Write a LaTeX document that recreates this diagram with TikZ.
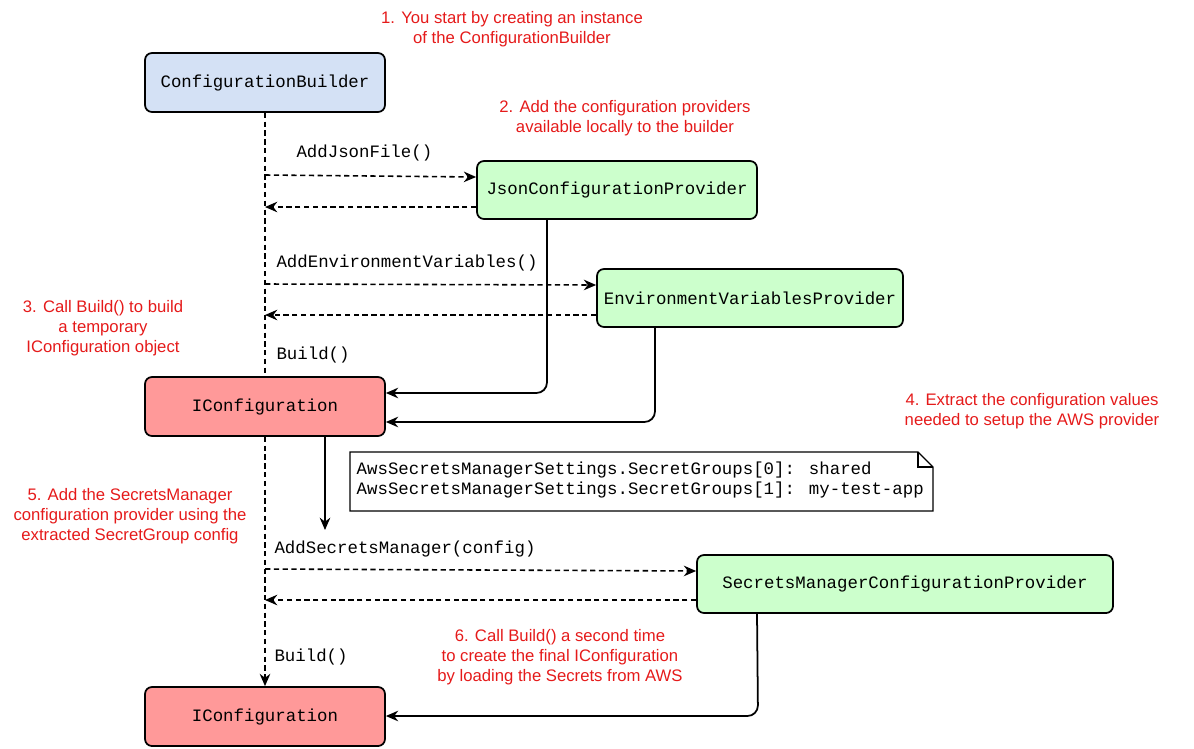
\documentclass[tikz,border=0pt]{standalone}
\usepackage{fontspec}
\setmainfont{Liberation Sans}
\newfontfamily\monofont{Liberation Mono}
\usetikzlibrary{arrows.meta,shapes.misc}
\definecolor{cbblue}{HTML}{D4E1F5}
\definecolor{provgreen}{HTML}{CCFFCC}
\definecolor{confred}{HTML}{FF9999}
\definecolor{notered}{HTML}{E51A1A}
\begin{document}
\begin{tikzpicture}[x=0.02cm, y=-0.02cm, thick,
  box/.style={draw, rounded corners=4pt, line width=1pt, font=\monofont\fontsize{9.9}{11}\selectfont},
  call/.style={densely dashed, line width=0.9pt, -{Stealth[length=7pt,width=6pt]}},
  link/.style={line width=1pt, rounded corners=6pt, -{Stealth[length=7pt,width=6pt]}},
  lbl/.style={anchor=west, font=\monofont\fontsize{9.9}{11}\selectfont},
  stepnote/.style={text=notered, align=center, font=\fontsize{9.5}{11.2}\selectfont}]
\useasboundingbox (0,0) rectangle (1194,748);
%%%%% Boxes %%%%%
\node[box, fill=cbblue, minimum width=240*0.02cm, minimum height=59*0.02cm] (cb) at (265,82.5) {ConfigurationBuilder};
\node[box, fill=provgreen, minimum width=280*0.02cm, minimum height=58*0.02cm] (json) at (617,190) {JsonConfigurationProvider};
\node[box, fill=provgreen, minimum width=306*0.02cm, minimum height=58*0.02cm] (env) at (750,298) {EnvironmentVariablesProvider};
\node[box, fill=confred, minimum width=240*0.02cm, minimum height=59*0.02cm] (conf) at (265,406.5) {IConfiguration};
\node[box, fill=provgreen, minimum width=416*0.02cm, minimum height=58*0.02cm] (sm) at (905,584) {SecretsManagerConfigurationProvider};
\node[box, fill=confred, minimum width=240*0.02cm, minimum height=59*0.02cm] (final) at (265,716.5) {IConfiguration};
%%%%% Note %%%%%
\draw[line width=0.8pt, fill=white] (350,452)--(918,452)--(933,467)--(933,511)--(350,511)--cycle;
\draw[line width=0.8pt] (918,452)--(918,467)--(933,467);
\node[anchor=north west, align=left, inner sep=0pt, font=\monofont\fontsize{9.9}{11.5}\selectfont] (note) at (356,461)
  {AwsSecretsManagerSettings.SecretGroups[0]: shared\\AwsSecretsManagerSettings.SecretGroups[1]: my-test-app};
%%%%% Lifeline %%%%%
\coordinate (l1) at (265,175); \coordinate (l2) at (265,207);
\coordinate (l3) at (265,284); \coordinate (l4) at (265,315);
\coordinate (l5) at (265,569); \coordinate (l6) at (265,600);
\draw[densely dashed, line width=0.9pt] (cb.south)--(conf.north);
\draw[call] (conf.south)--(final.north);
\draw[call] (l1)--(json.west|-0,177);
\draw[call] (json.west|-l2)--(l2);
\draw[call] (l3)--(env.west|-0,285);
\draw[call] (env.west|-l4)--(l4);
\draw[call] (l5)--(sm.west|-0,571);
\draw[call] (sm.west|-l6)--(l6);
\node[lbl] (ljson) at (290,153) {AddJsonFile()};
\node[lbl] (lenv) at (270,263) {AddEnvironmentVariables()};
\node[lbl] (lb1) at (270,355) {Build()};
\node[lbl] (lsm) at (268,549) {AddSecretsManager(config)};
\node[lbl] (lb2) at (268,657) {Build()};
%%%%% Solid links %%%%%
\draw[link] (547,219)--(547,393)--(conf.east|-0,393);
\draw[link] (655,327)--(655,422)--(conf.east|-0,422);
\draw[link] (325,436)--(325,530);
\draw[link] (757,613)--(758,716)--(final.east|-0,716);
%%%%% Steps %%%%%
\node[stepnote] (s1) at (512,29) {1. You start by creating an instance\\of the ConfigurationBuilder};
\node[stepnote] (s2) at (625,118) {2. Add the configuration providers\\available locally to the builder};
\node[stepnote] (s3) at (103,328) {3. Call Build() to build\\a temporary\\IConfiguration object};
\node[stepnote] (s4) at (1032,411) {4. Extract the configuration values\\needed to setup the AWS provider};
\node[stepnote] (s5) at (130,516) {5. Add the SecretsManager\\configuration provider using the\\extracted SecretGroup config};
\node[stepnote] (s6) at (560,657) {6. Call Build() a second time\\to create the final IConfiguration\\by loading the Secrets from AWS};
\end{tikzpicture}
\end{document}
